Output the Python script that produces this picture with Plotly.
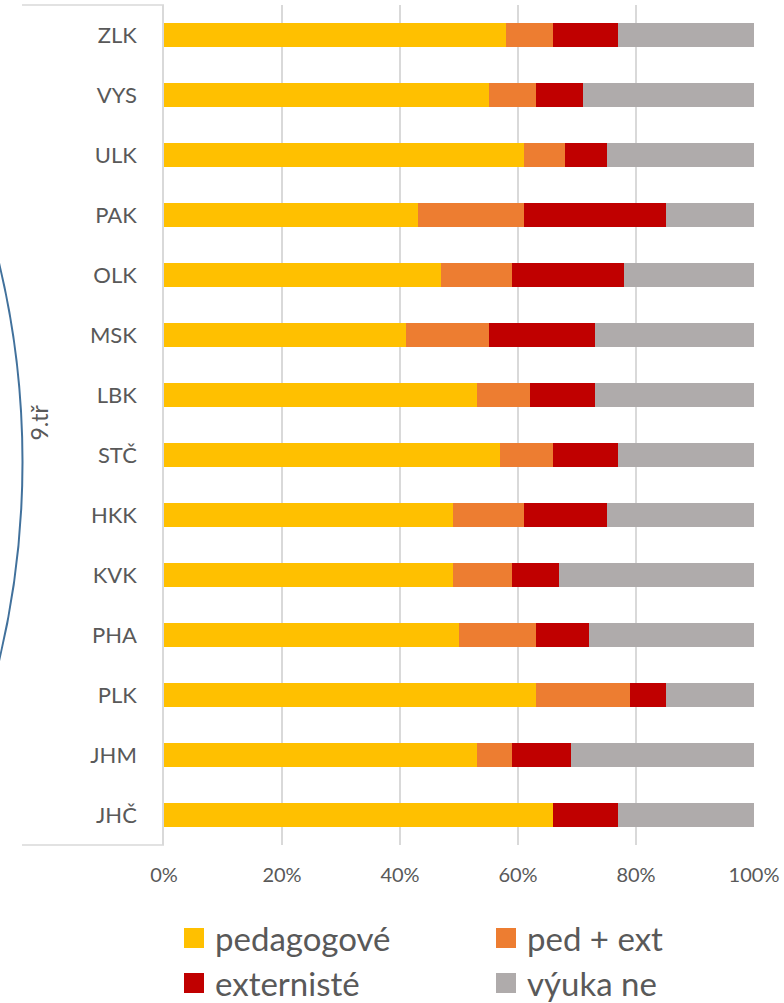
import plotly.graph_objects as go

# ---- data (top to bottom as shown) ----
categories = ["ZLK", "VYS", "ULK", "PAK", "OLK", "MSK", "LBK", "STČ", "HKK", "KVK", "PHA", "PLK", "JHM", "JHČ"]
pedagogove = [58, 55, 61, 43, 47, 41, 53, 57, 49, 49, 50, 63, 53, 66]
ped_ext    = [8, 8, 7, 18, 12, 14, 9, 9, 12, 10, 13, 16, 6, 0]
externiste = [11, 8, 7, 24, 19, 18, 11, 11, 14, 8, 9, 6, 10, 11]
vyuka_ne   = [23, 29, 25, 15, 22, 27, 27, 23, 25, 33, 28, 15, 31, 23]
series_names = ["pedagogové", "ped + ext", "externisté", "výuka ne"]
group_label = "9.tř"
x_ticks = [0, 20, 40, 60, 80, 100]
x_tick_labels = ["0%", "20%", "40%", "60%", "80%", "100%"]

colors = ["#FFC000", "#ED7D31", "#C00000", "#AFABAB"]
series_values = [pedagogove, ped_ext, externiste, vyuka_ne]

W, H = 784, 1003
L, R, T, B = 164, 30, 5, 158
PW, PH = W - L - R, H - T - B

def px(x):
    return (x - L) / PW

def py(y):
    return (H - B - y) / PH

FONT = "Lato"
TXT = "#595959"
GRID = "#D9D9D9"

fig = go.Figure()
for name, vals, col in zip(series_names, series_values, colors):
    fig.add_trace(go.Bar(
        y=categories, x=vals, name=name, orientation="h",
        marker=dict(color=col, line=dict(width=0)),
        showlegend=False,
    ))

fig.update_layout(
    width=W, height=H,
    margin=dict(l=L, r=R, t=T, b=B, autoexpand=False),
    barmode="stack", barnorm="percent", bargap=0.59,
    plot_bgcolor="white", paper_bgcolor="white",
    font=dict(family=FONT, color=TXT),
)
fig.update_xaxes(
    range=[0, 100], tickvals=x_ticks, ticktext=x_tick_labels,
    showgrid=True, gridcolor=GRID, gridwidth=1.5, zeroline=False,
    tickfont=dict(size=20, color=TXT, family=FONT),
    ticklabelstandoff=16, showline=False, fixedrange=True,
)
fig.update_yaxes(
    autorange="reversed", showline=True, linecolor=GRID, linewidth=1.5,
    tickfont=dict(size=22, color=TXT, family=FONT),
    ticklabelstandoff=21, showgrid=False,
)

shapes = []
# multilevel category axis box lines
shapes.append(dict(type="line", xref="paper", yref="paper", x0=px(22), x1=0, y0=1, y1=1,
                   line=dict(color=GRID, width=1.5)))
shapes.append(dict(type="line", xref="paper", yref="paper", x0=px(22), x1=0, y0=0, y1=0,
                   line=dict(color=GRID, width=1.5)))
# blue arc
cx, cy, rad = -829.5, 462, 852
shapes.append(dict(type="circle", xref="paper", yref="paper",
                   x0=px(cx - rad), x1=px(cx + rad), y0=py(cy + rad), y1=py(cy - rad),
                   line=dict(color="#41719C", width=2), layer="above"))

annotations = [dict(text=group_label, xref="paper", yref="paper", x=px(38.5), y=py(423),
                    textangle=-90, showarrow=False, xanchor="center", yanchor="middle",
                    font=dict(size=23, color=TXT, family=FONT))]

# legend (manual, 2 columns)
leg_cols = [184, 496]
leg_rows = [938, 983]
sq = 20
for i, (name, col) in enumerate(zip(series_names, colors)):
    x0 = leg_cols[i % 2]
    yc = leg_rows[i // 2]
    shapes.append(dict(type="rect", xref="paper", yref="paper",
                       x0=px(x0), x1=px(x0 + sq), y0=py(yc + sq / 2), y1=py(yc - sq / 2),
                       fillcolor=col, line=dict(width=0)))
    annotations.append(dict(text=name, xref="paper", yref="paper", x=px(x0 + sq + 9), y=py(yc),
                            xanchor="left", yanchor="middle", showarrow=False,
                            font=dict(size=33, color=TXT, family=FONT)))

fig.update_layout(shapes=shapes, annotations=annotations)
fig.write_html("out.html", config={"displayModeBar": False},
               post_script="document.body.style.margin='0';document.body.style.overflow='hidden';")
